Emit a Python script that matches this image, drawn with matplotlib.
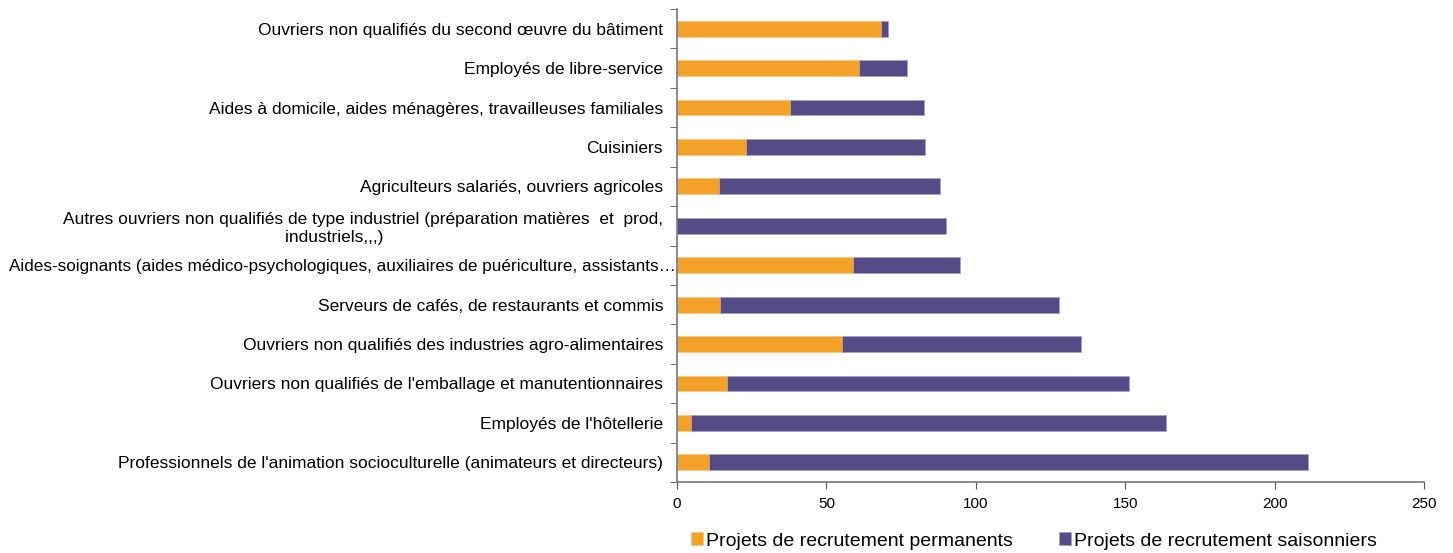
import matplotlib
matplotlib.use("Agg")
import matplotlib.pyplot as plt
import numpy as np

plt.rcParams['font.family'] = ['Liberation Sans', 'DejaVu Sans']

# Données (de haut en bas)
metiers = [
    "Ouvriers non qualifiés du second œuvre du bâtiment",
    "Employés de libre-service",
    "Aides à domicile, aides ménagères, travailleuses familiales",
    "Cuisiniers",
    "Agriculteurs salariés, ouvriers agricoles",
    "Autres ouvriers non qualifiés de type industriel (préparation matières  et  prod,\nindustriels,,,)            ",
    "Aides-soignants (aides médico-psychologiques, auxiliaires de puériculture, assistants…",
    "Serveurs de cafés, de restaurants et commis",
    "Ouvriers non qualifiés des industries agro-alimentaires",
    "Ouvriers non qualifiés de l'emballage et manutentionnaires",
    "Employés de l'hôtellerie",
    "Professionnels de l'animation socioculturelle (animateurs et directeurs)",
]
permanents = [68.2, 60.9, 37.7, 23.2, 14.0, 0.0, 58.8, 14.3, 55.3, 16.8, 4.6, 10.6]
saisonniers = [2.5, 16.0, 44.8, 59.7, 74.1, 90.0, 35.9, 113.7, 79.9, 134.6, 159.2, 200.6]
x_ticks = [0, 50, 100, 150, 200, 250]

orange = '#F4A12A'
violet = '#554C87'

fig = plt.figure(figsize=(14.53, 5.53), dpi=100)
ax = fig.add_axes([677 / 1453, 1 - 482 / 553, (1424 - 677) / 1453, (482 - 9) / 553])

y = np.arange(len(metiers))
ax.barh(y, permanents, height=0.4, color=orange, edgecolor='#f8c987', linewidth=0.6,
        label="Projets de recrutement permanents")
ax.barh(y, saisonniers, left=permanents, height=0.4, color=violet, edgecolor='#a7a2c6',
        linewidth=0.6, label="Projets de recrutement saisonniers")

ax.set_xlim(0, 250)
ax.set_ylim(len(metiers) - 0.5, -0.5)
ax.set_xticks(x_ticks)
ax.set_xticklabels([str(v) for v in x_ticks], fontsize=11)
ax.set_yticks(y)
ax.set_yticklabels(metiers, fontsize=12.5, multialignment='center')
ax.set_yticks(np.arange(len(metiers) + 1) - 0.5, minor=True)
ax.tick_params(axis='y', which='major', length=0, pad=10)
ax.tick_params(axis='y', which='minor', length=5, color='#555555', direction='out')
ax.tick_params(axis='x', length=5, color='#555555', direction='out', pad=6)

# le libellé tronqué déborde jusqu'à l'axe
lab = ax.get_yticklabels()[6]
lab.set_fontsize(12.3)
lab.set_x(lab.get_position()[0] + 13 / 747)

for s in ['top', 'right']:
    ax.spines[s].set_visible(False)
for s in ['left', 'bottom']:
    ax.spines[s].set_color('#777777')
    ax.spines[s].set_linewidth(1.2)

fig.legend(loc='center', bbox_to_anchor=(1034 / 1453, 1 - 541 / 553), ncol=2,
           frameon=False, fontsize=14, handlelength=0.65, handleheight=0.65,
           handletextpad=0.15, columnspacing=2.35)

fig.savefig('out.png', dpi=100)
